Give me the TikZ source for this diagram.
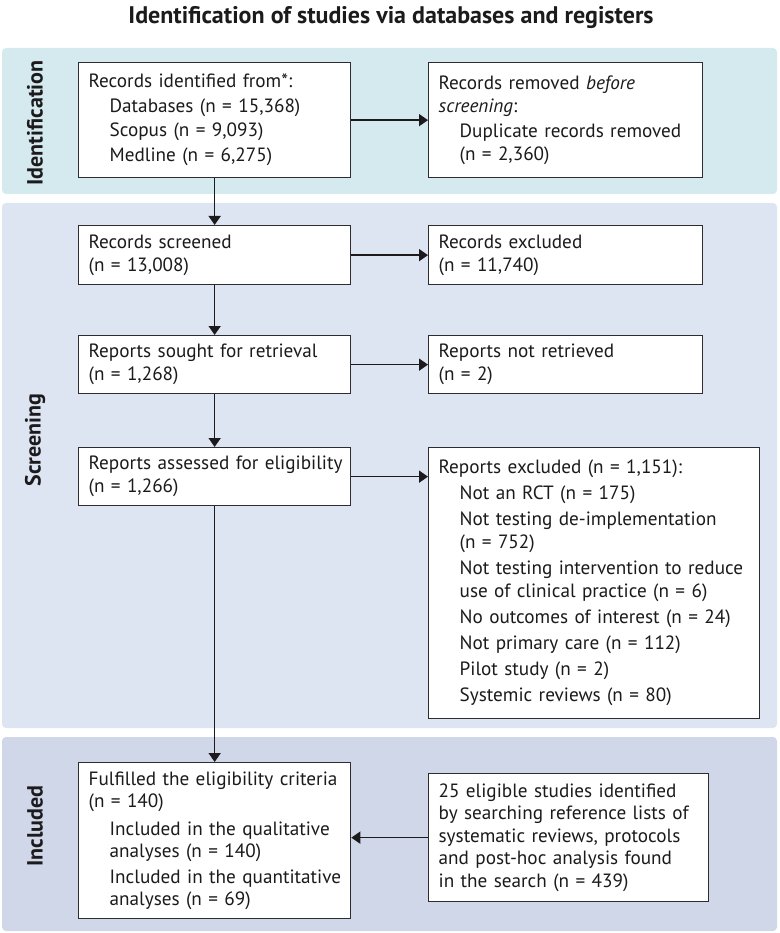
\documentclass[tikz,border=0pt]{standalone}
\usepackage{fontspec}
\setmainfont{PT Sans}
\usetikzlibrary{arrows.meta}
\definecolor{identc}{RGB}{212,234,239}
\definecolor{screenc}{RGB}{221,229,242}
\definecolor{inclc}{RGB}{207,215,233}
\definecolor{boxc}{RGB}{45,45,48}
\definecolor{txtc}{RGB}{28,26,28}
\newcommand{\myind}{\hspace*{21pt}}
\newcommand{\lines}[1]{\begin{tabular}{@{}l@{}}#1\end{tabular}}
\begin{document}
\begin{tikzpicture}[x=1pt,y=-1pt,
  band/.style={fill=#1,draw=none,rounded corners=4pt},
  box/.style={draw=boxc,line width=1.3pt,fill=white,anchor=north west,inner xsep=10pt,inner ysep=0pt,align=left,text=txtc,font=\fontsize{19.2}{23}\selectfont},
  arr/.style={draw=txtc,line width=1.6pt,-{Triangle[length=9pt,width=12pt]}},
  bandlabel/.style={rotate=90,font=\bfseries\fontsize{22}{24}\selectfont,text=txtc}]
\useasboundingbox (0,0) rectangle (779,933);
% bands
\fill[band=identc] (2,48) rectangle (777,194);
\fill[band=screenc] (2,203) rectangle (777,728);
\fill[band=inclc] (2,737) rectangle (777,931);
% title
\node[font=\bfseries\fontsize{24}{26}\selectfont,text=txtc] (title) at (391,18) {Identification of studies via databases and registers};
% band labels
\node[bandlabel] (lid) at (35,123) {Identification};
\node[bandlabel] (lsc) at (35,440) {Screening};
\node[bandlabel] (lin) at (35,826) {Included};
% boxes
\node[box,text width=252pt,minimum height=115pt] (rid) at (78,62) {\lines{Records identified from*:\\[1.5pt]
\myind Databases (n = 15,368)\\[1.5pt]
\myind Scopus (n = 9,093)\\[1.5pt]
\myind Medline (n = 6,275)}};
\node[box,text width=254pt,minimum height=115pt] (rrem) at (428,62) {\lines{Records removed \emph{before}\\
\emph{screening}:\\[2pt]
\myind Duplicate records removed\\
\myind (n = 2,360)}};
\node[box,text width=252pt,minimum height=59pt] (rscr) at (78,225) {\lines{Records screened\\(n = 13,008)}};
\node[box,text width=254pt,minimum height=59pt] (rexc) at (428,225) {\lines{Records excluded\\(n = 11,740)}};
\node[box,text width=252pt,minimum height=58pt] (rsou) at (78,335) {\lines{Reports sought for retrieval\\(n = 1,268)}};
\node[box,text width=254pt,minimum height=58pt] (rnot) at (428,335) {\lines{Reports not retrieved\\(n = 2)}};
\node[box,text width=252pt,minimum height=58pt] (rass) at (78,447) {\lines{Reports assessed for eligibility\\(n = 1,266)}};
\node[box,text width=311pt,minimum height=271pt] (rrex) at (428,447) {\lines{Reports excluded (n = 1,151):\\[3pt]
\myind Not an RCT (n = 175)\\[3pt]
\myind Not testing de-implementation\\
\myind (n = 752)\\[3pt]
\myind Not testing intervention to reduce\\
\myind use of clinical practice (n = 6)\\[3pt]
\myind No outcomes of interest (n = 24)\\[3pt]
\myind Not primary care (n = 112)\\[3pt]
\myind Pilot study (n = 2)\\[3pt]
\myind Systemic reviews (n = 80)}};
\node[box,text width=252pt,minimum height=156pt] (ful) at (78,762) {\lines{Fulfilled the eligibility criteria\\[-1pt]
(n = 140)\\[5pt]
\myind Included in the qualitative\\[-1pt]
\myind analyses (n = 140)\\[3pt]
\myind Included in the quantitative\\[-1pt]
\myind analyses (n = 69)}};
\node[box,text width=260pt,minimum height=128pt,font=\fontsize{19.2}{22.5}\selectfont] (elig) at (428,773) {\lines{25 eligible studies identified\\
by searching reference lists of\\
systematic reviews, protocols\\
and post-hoc analysis found\\
in the search (n = 439)}};
% connectors
\draw[arr] (rid.east) -- (rrem.west);
\draw[arr] (rscr.east) -- (rexc.west);
\draw[arr] (rsou.east) -- (rnot.west);
\draw[arr] (rass.east) -- (rass.east -| rrex.west);
\draw[arr] (elig.west) -- (elig.west -| ful.east);
\draw[arr] (rid.south) -- (rscr.north);
\draw[arr] (rscr.south) -- (rsou.north);
\draw[arr] (rsou.south) -- (rass.north);
\draw[arr] (rass.south) -- (ful.north);
\end{tikzpicture}
\end{document}
